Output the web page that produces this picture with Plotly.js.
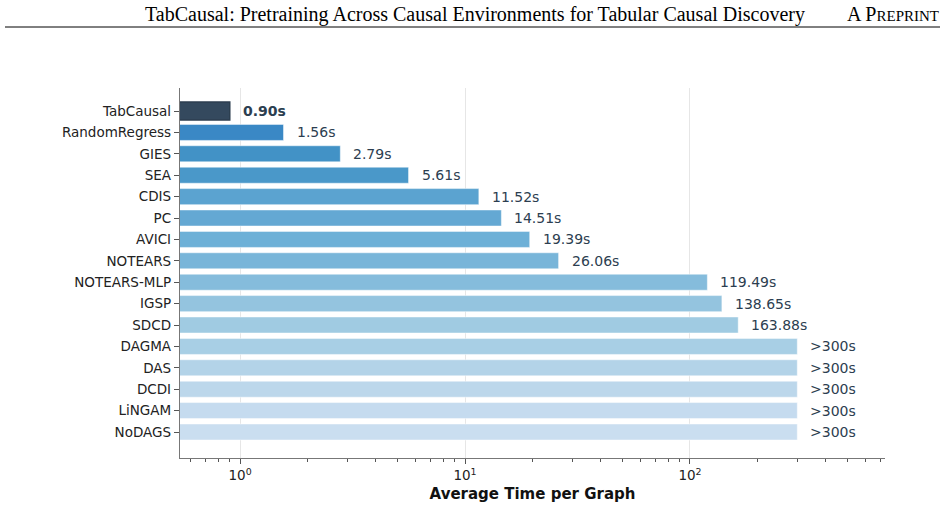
<!DOCTYPE html>
<html>
<head>
<meta charset="utf-8">
<script src="https://cdn.plot.ly/plotly-3.0.1.min.js"></script>
<style>html,body{margin:0;padding:0;background:#fff;}#chart{width:948px;height:508px;}</style>
</head>
<body>
<div id="chart"></div>
<script>
const methods = ["TabCausal","RandomRegress","GIES","SEA","CDIS","PC","AVICI","NOTEARS","NOTEARS-MLP","IGSP","SDCD","DAGMA","DAS","DCDI","LiNGAM","NoDAGS"];
const times = [0.90,1.56,2.79,5.61,11.52,14.51,19.39,26.06,119.49,138.65,163.88,300,300,300,300,300];
const timeLabels = ["0.90s","1.56s","2.79s","5.61s","11.52s","14.51s","19.39s","26.06s","119.49s","138.65s","163.88s",">300s",">300s",">300s",">300s",">300s"];
const barColors = ["#34495e","#3a88c5","#4292c6","#4a98c9","#5ba3d0","#64a8d3","#6db0d7","#78b5d9","#85bcdc","#94c4df","#a0cbe2","#a8cfe5","#b3d3e8","#bcd7eb","#c5dbef","#cadef0"];

const widths = methods.map((m,i)=> i===0 ? 0.85 : 0.75);
const lineColors = methods.map((m,i)=> i===0 ? "#2c3e50" : "rgba(255,255,255,0.6)");
const lineWidths = methods.map((m,i)=> i===0 ? 1.5 : 0.8);

const trace = {
  type: "bar",
  orientation: "h",
  x: times,
  y: methods,
  width: widths,
  marker: {color: barColors, line: {color: lineColors, width: lineWidths}},
  hoverinfo: "skip"
};

const annotations = methods.map((m,i)=>({
  x: Math.log10(times[i]), y: m, xref: "x", yref: "y",
  text: i===0 ? "<b>"+timeLabels[i]+"</b>" : timeLabels[i],
  showarrow: false, xanchor: "left", yanchor: "middle", xshift: 11,
  font: {family: "DejaVu Sans", size: 14, color: "#2c3e50"}
}));

// header
annotations.push({
  xref: "paper", yref: "paper", x: (143-180)/705, y: (458-14)/370, xanchor: "left", yanchor: "middle",
  text: "TabCausal: Pretraining Across Causal Environments for Tabular Causal Discovery",
  showarrow: false, font: {family: "Liberation Serif", size: 20, color: "#000"}
});
annotations.push({
  xref: "paper", yref: "paper", x: (941-180)/705, y: (458-14)/370, xanchor: "right", yanchor: "middle",
  text: "A P<span style=\"font-size:15px\">REPRINT</span>",
  showarrow: false, font: {family: "Liberation Serif", size: 20, color: "#000"}
});

const layout = {
  width: 948, height: 508,
  margin: {l: 180, r: 63, t: 88, b: 50},
  paper_bgcolor: "#fff", plot_bgcolor: "#fff",
  showlegend: false,
  font: {family: "DejaVu Sans", size: 13.5, color: "#222"},
  xaxis: {
    type: "log",
    range: [-0.267, 2.867],
    tickvals: [1, 10, 100],
    ticktext: ["10<sup>0</sup>", "10<sup>1</sup>", "10<sup>2</sup>"],
    ticks: "outside", ticklen: 5, tickcolor: "#555", tickwidth: 1,
    minor: {ticks: "outside", ticklen: 3, tickcolor: "#555", dtick: "D1", showgrid: false},
    showgrid: true, gridcolor: "#e6e6e6", gridwidth: 1,
    showline: true, linecolor: "#777", linewidth: 1.2,
    zeroline: false,
    tickfont: {family: "DejaVu Sans", size: 13.5, color: "#222"},
    title: {text: "<b>Average Time per Graph</b>", font: {family: "DejaVu Sans", size: 15, color: "#111"}, standoff: 6}
  },
  yaxis: {
    type: "category",
    range: [16.215, -1.075],
    ticks: "outside", ticklen: 5, tickcolor: "#555",
    showgrid: false, zeroline: false,
    showline: true, linecolor: "#777", linewidth: 1.2,
    tickfont: {family: "DejaVu Sans", size: 13.5, color: "#222"}
  },
  shapes: [{
    type: "line", xref: "paper", yref: "paper",
    x0: (5-180)/705, x1: (940-180)/705, y0: (458-27)/370, y1: (458-27)/370,
    line: {color: "#000", width: 1}
  }],
  annotations: annotations
};

Plotly.newPlot("chart", [trace], layout, {displayModeBar: false, staticPlot: true});
</script>
</body>
</html>
